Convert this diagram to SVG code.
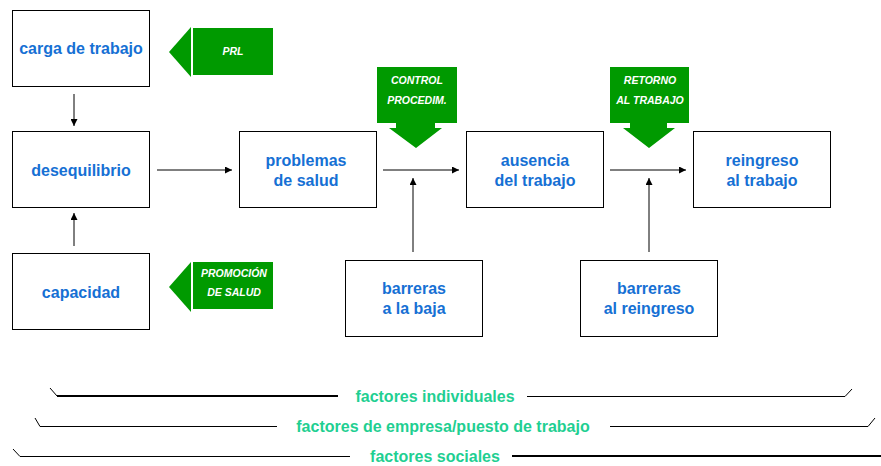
<svg xmlns="http://www.w3.org/2000/svg" width="881" height="466" viewBox="0 0 881 466">
<defs>
<marker id="ah" viewBox="0 0 10 10" refX="10" refY="5" markerWidth="7" markerHeight="7" markerUnits="userSpaceOnUse" orient="auto"><path d="M0,0 L10,5 L0,10 z" fill="#000"/></marker>
<style>
.box{fill:#fff;stroke:#000;stroke-width:1}
.lbl{font-family:"Liberation Sans",Arial,sans-serif;font-weight:bold;font-size:16px;fill:#1670d4;text-anchor:middle}
.gr{fill:#009a00}
.gt{font-family:"Liberation Sans",Arial,sans-serif;font-weight:bold;font-style:italic;font-size:10.5px;fill:#fff;text-anchor:middle}
.ft{font-family:"Liberation Sans",Arial,sans-serif;font-weight:bold;font-size:16px;fill:#1fcf92;text-anchor:middle}
.ln{stroke:#000;fill:none;stroke-width:1}
.lnt{stroke:#000;fill:none;stroke-width:2}
</style>
</defs>
<rect width="881" height="466" fill="#fff"/>
<g id="connectors">
<line class="ln" x1="74" y1="94" x2="74" y2="126" marker-end="url(#ah)"/>
<line class="ln" x1="74" y1="246" x2="74" y2="213" marker-end="url(#ah)"/>
<line class="ln" x1="157" y1="170" x2="232" y2="170" marker-end="url(#ah)"/>
<line class="ln" x1="383" y1="170" x2="459" y2="170" marker-end="url(#ah)"/>
<line class="ln" x1="610" y1="170" x2="686" y2="170" marker-end="url(#ah)"/>
<line class="ln" x1="413" y1="252" x2="413" y2="178" marker-end="url(#ah)"/>
<line class="ln" x1="649" y1="252" x2="649" y2="178" marker-end="url(#ah)"/>
</g>
<g id="n-carga"><rect class="box" x="12.5" y="10.5" width="137" height="76"/><text class="lbl" x="81" y="54">carga de trabajo</text></g>
<g id="n-deseq"><rect class="box" x="12.5" y="131.5" width="137" height="76"/><text class="lbl" x="81" y="176">desequilibrio</text></g>
<g id="n-capac"><rect class="box" x="12.5" y="253.5" width="137" height="76"/><text class="lbl" x="81" y="298">capacidad</text></g>
<g id="n-problemas"><rect class="box" x="239.5" y="131.5" width="137" height="76"/><text class="lbl" x="306" y="166">problemas</text><text class="lbl" x="306" y="186">de salud</text></g>
<g id="n-ausencia"><rect class="box" x="466.5" y="131.5" width="137" height="76"/><text class="lbl" x="535" y="166">ausencia</text><text class="lbl" x="535" y="186">del trabajo</text></g>
<g id="n-reingreso"><rect class="box" x="693.5" y="131.5" width="137" height="76"/><text class="lbl" x="762" y="166">reingreso</text><text class="lbl" x="762" y="186">al trabajo</text></g>
<g id="n-barreras-baja"><rect class="box" x="345.5" y="260.5" width="137" height="76"/><text class="lbl" x="414" y="294">barreras</text><text class="lbl" x="414" y="314">a la baja</text></g>
<g id="n-barreras-reing"><rect class="box" x="580.5" y="260.5" width="137" height="76"/><text class="lbl" x="649" y="294">barreras</text><text class="lbl" x="649" y="314">al reingreso</text></g>
<g id="n-prl"><polygon class="gr" points="169,52 191,27 191,77"/><rect class="gr" x="193" y="28" width="80" height="47"/><text class="gt" x="233" y="55">PRL</text></g>
<g id="n-promocion"><polygon class="gr" points="169,287 191,262 191,312"/><rect class="gr" x="193" y="262" width="80" height="47"/><text class="gt" x="234" y="277">PROMOCIÓN</text><text class="gt" x="234" y="296">DE SALUD</text></g>
<g id="n-control"><polygon class="gr" points="377,67 457,67 457,123 435,123 435,128 442,128 416,148 389,128 396,128 396,123 377,123"/><text class="gt" x="417" y="84">CONTROL</text><text class="gt" x="417" y="104">PROCEDIM.</text></g>
<g id="n-retorno"><polygon class="gr" points="610,67 689,67 689,123 667,123 667,128 675,128 649,148 623,128 630,128 630,123 610,123"/><text class="gt" x="650" y="84">RETORNO</text><text class="gt" x="650" y="104">AL TRABAJO</text></g>
<g id="factores">
<path class="lnt" d="M57,396 L338,396"/><path class="ln" d="M50,388 L57,396"/>
<path class="ln" d="M527,396.5 L845,396.5 L852,389"/>
<text class="ft" x="435" y="402">factores individuales</text>
<path class="ln" d="M35,418 L40,426.5 L277,426.5"/>
<path class="ln" d="M610,426.5 L868,426.5 L875,418"/>
<text class="ft" x="443" y="432">factores de empresa/puesto de trabajo</text>
<path class="ln" d="M13,449 L20,456.5 L350,456.5"/>
<path class="lnt" d="M512,456 L881,456"/>
<text class="ft" x="435" y="462">factores sociales</text>
</g>
</svg>
